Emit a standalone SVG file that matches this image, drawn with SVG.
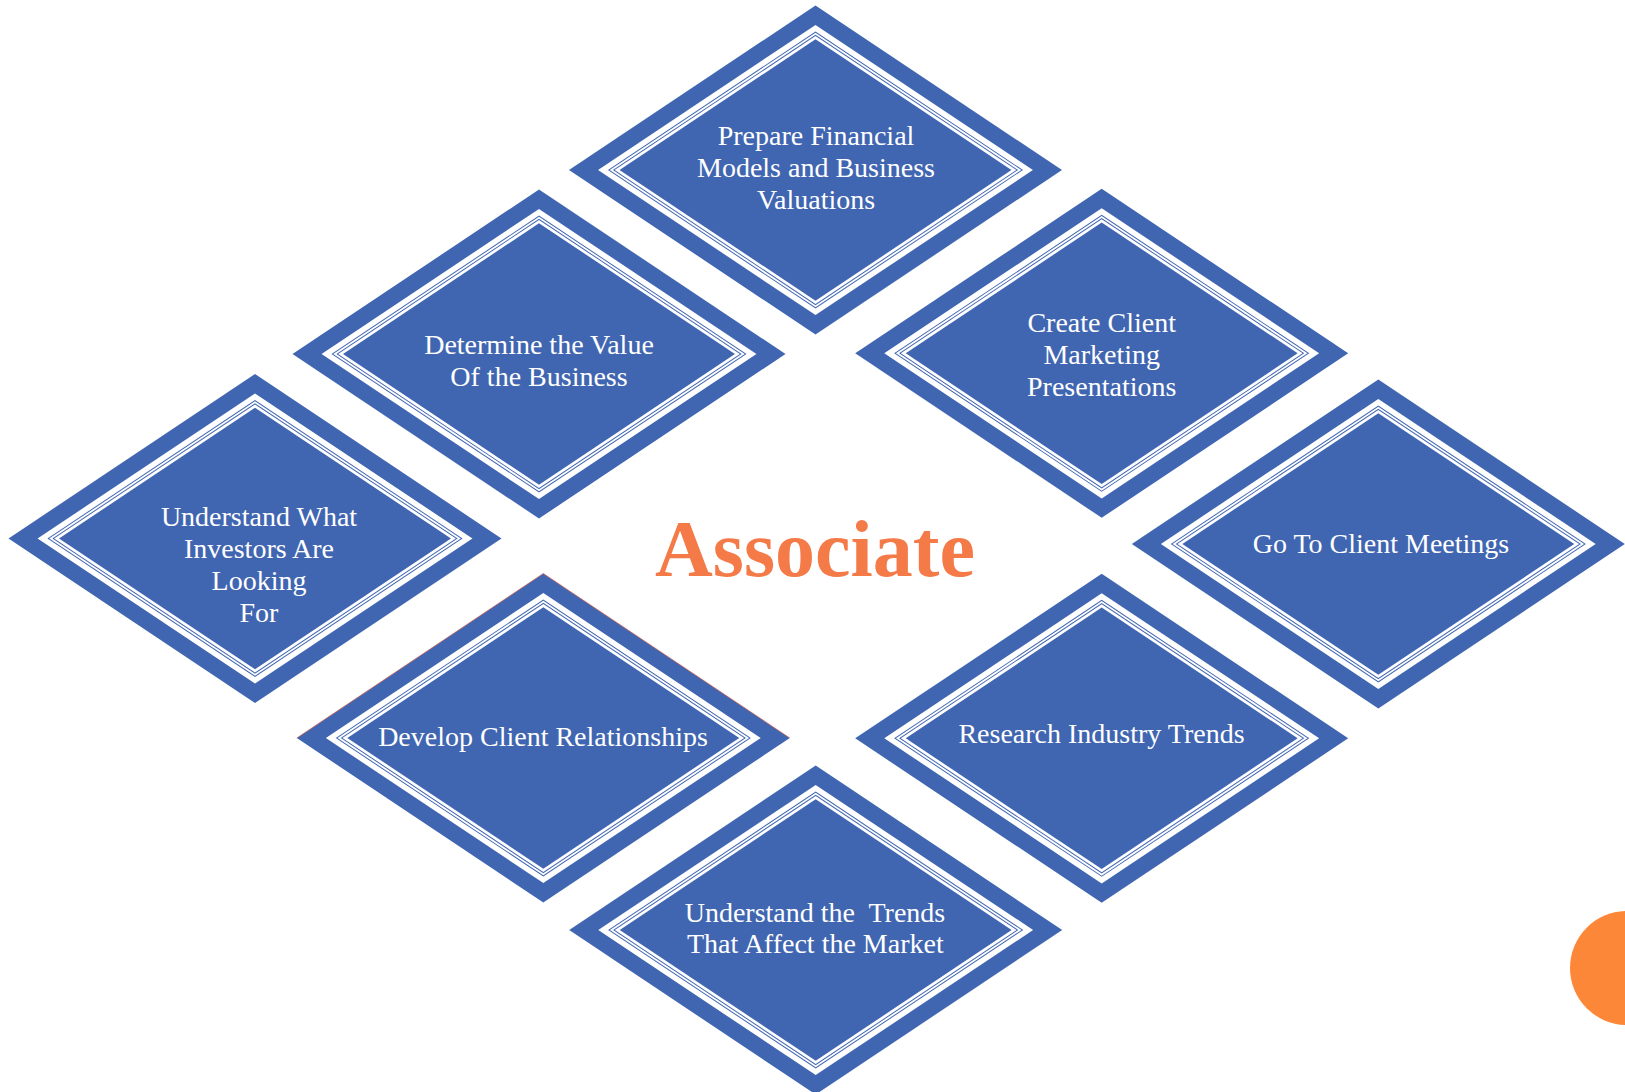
<svg xmlns="http://www.w3.org/2000/svg" xmlns:xlink="http://www.w3.org/1999/xlink" width="1625" height="1092" viewBox="0 0 1625 1092">
  <style>
    .b { fill: #4166B1; }
    .w { fill: #FFFFFF; }
    .lbl { font-family: "Liberation Serif", "Times New Roman", serif; font-size: 28px; fill: #FFFFFF; text-anchor: middle; white-space: pre; }
    .title { font-family: "Liberation Serif", "Times New Roman", serif; font-size: 80px; font-weight: bold; fill: #F47A48; text-anchor: middle; }
  </style>
  <defs>
    <path id="dia" d="M0,-164.5 L246.5,0 L0,164.5 L-246.5,0 Z"/>
    <g id="tile">
      <use href="#dia" class="b"/>
      <use href="#dia" class="w" transform="scale(0.882)"/>
      <use href="#dia" class="b" transform="scale(0.842)"/>
      <use href="#dia" class="w" transform="scale(0.835)"/>
      <use href="#dia" class="b" transform="scale(0.822)"/>
      <use href="#dia" class="w" transform="scale(0.815)"/>
      <use href="#dia" class="b" transform="scale(0.795)"/>
    </g>
  </defs>
  <rect width="1625" height="1092" fill="#FFFFFF"/>

  <g id="node-prepare">
    <use href="#tile" transform="translate(815.5,170)"/>
    <text class="lbl" x="816" y="145">Prepare Financial</text>
    <text class="lbl" x="816" y="177">Models and Business</text>
    <text class="lbl" x="816" y="209">Valuations</text>
  </g>

  <g id="node-determine">
    <use href="#tile" transform="translate(539,354)"/>
    <text class="lbl" x="539" y="354">Determine the Value</text>
    <text class="lbl" x="539" y="386">Of the Business</text>
  </g>

  <g id="node-create">
    <use href="#tile" transform="translate(1101.7,353.3)"/>
    <text class="lbl" x="1101.7" y="332.3">Create Client</text>
    <text class="lbl" x="1101.7" y="364">Marketing</text>
    <text class="lbl" x="1101.7" y="396">Presentations</text>
  </g>

  <g id="node-investors">
    <use href="#tile" transform="translate(255,538.5)"/>
    <text class="lbl" x="259" y="526">Understand What</text>
    <text class="lbl" x="259" y="558">Investors Are</text>
    <text class="lbl" x="259" y="590">Looking</text>
    <text class="lbl" x="259" y="622">For</text>
  </g>

  <g id="node-meetings">
    <use href="#tile" transform="translate(1378.3,544)"/>
    <text class="lbl" x="1381" y="553.3">Go To Client Meetings</text>
  </g>

  <g id="node-develop">
    <use href="#tile" transform="translate(543.3,738)"/>
    <polyline points="296.8,738 543.3,573.5 789.8,738" fill="none" stroke="#D9573B" stroke-width="0.8" stroke-opacity="0.8"/>
    <text class="lbl" x="543" y="745.7">Develop Client Relationships</text>
  </g>

  <g id="node-research">
    <use href="#tile" transform="translate(1101.7,738.3)"/>
    <text class="lbl" x="1101.5" y="743.3">Research Industry Trends</text>
  </g>

  <g id="node-trends">
    <use href="#tile" transform="translate(815.7,930)"/>
    <text class="lbl" x="815" y="921.7">Understand the  Trends</text>
    <text class="lbl" x="815.3" y="953.3">That Affect the Market</text>
  </g>

  <g id="title">
    <text class="title" x="815" y="576">Associate</text>
  </g>

  <g id="connectors"></g>

  <circle id="deco-circle" cx="1627" cy="968" r="57" fill="#FD8738"/>
</svg>
